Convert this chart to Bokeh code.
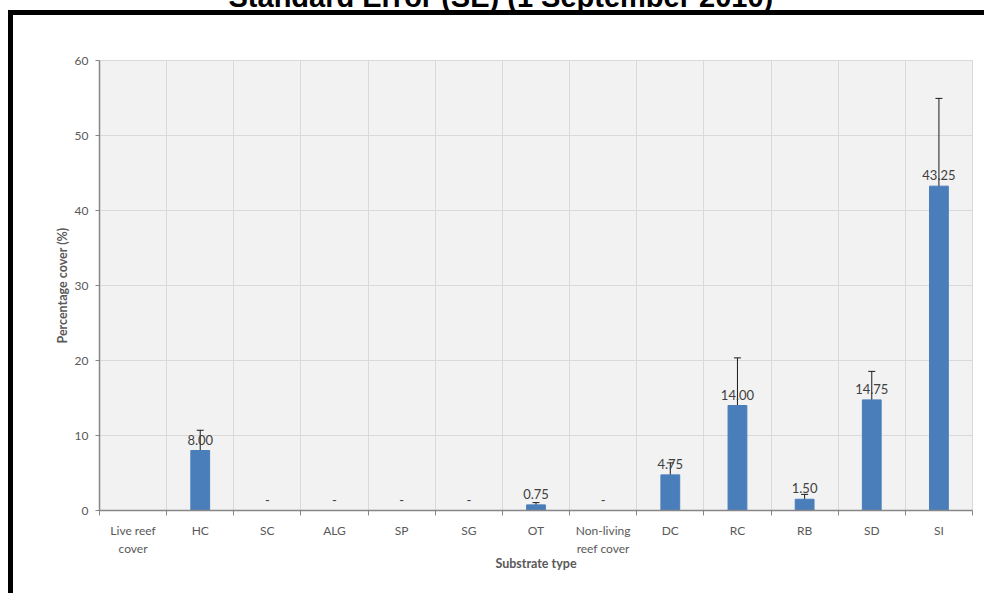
import numpy as np
from bokeh.plotting import figure
from bokeh.core.properties import value
from bokeh.models import (ColumnDataSource, Whisker, TeeHead, FixedTicker, LabelSet)
from bokeh.embed import file_html
from bokeh.resources import INLINE

title = "Standard Error (SE) (1 September 2010)"
categories = ["Live reef\ncover", "HC", "SC", "ALG", "SP", "SG", "OT",
              "Non-living\nreef cover", "DC", "RC", "RB", "SD", "SI"]
means = [np.nan, 8.00, 0, 0, 0, 0, 0.75, 0, 4.75, 14.00, 1.50, 14.75, 43.25]
se = [np.nan, 2.7, 0, 0, 0, 0, 0.3, 0, 1.6, 6.35, 0.65, 3.8, 11.7]
value_labels = ["", "8.00", "-", "-", "-", "-", "0.75", "-", "4.75", "14.00", "1.50", "14.75", "43.25"]
y_ticks = [0, 10, 20, 30, 40, 50, 60]
x_title = "Substrate type"
y_title = "Percentage cover (%)"

n = len(categories)
xc = np.arange(n) + 0.5
m = np.array(means, dtype=float)
s = np.array(se, dtype=float)

src = ColumnDataSource(dict(x=xc, mean=m, ylab=np.nan_to_num(m), label=value_labels))
has_err = np.nan_to_num(s) > 0
err_src = ColumnDataSource(dict(x=xc[has_err], upper=(m + s)[has_err], lower=(m - s)[has_err]))

TXT = "#595959"
FONT = "Lato"
W, H = 984, 593
D = 80  # canvas starts D px above the window so that the title is cut off at the top
BL, BR, BT, BB = 99, 12, 60 + D, 83

p = figure(width=W, height=H + D, x_range=(0, n), y_range=(y_ticks[0], y_ticks[-1]),
           output_backend="svg", toolbar_location=None,
           min_border_left=BL, min_border_right=BR, min_border_top=BT, min_border_bottom=BB)
# outer black frame (left and top edges), drawn behind the transparent canvas border
p.styles = {"margin-top": f"-{D}px",
            "background": f"linear-gradient(#000,#000) 8px {10 + D}px / 5px 100% no-repeat, "
                          f"linear-gradient(#000,#000) 8px {10 + D}px / 100% 5px no-repeat, white"}
p.border_fill_color = None
p.background_fill_color = "#f2f2f2"
p.outline_line_color = "#d9d9d9"

p.title.text = title
p.title.text_font = "Liberation Sans"
p.title.text_font_style = "bold"
p.title.text_font_size = "29px"
p.title.text_color = "black"
p.title.align = "left"
p.title.offset = 228 - BL
p.title.vertical_align = "bottom"
p.title.standoff = 96

p.vbar(x="x", top="mean", width=0.28, source=src, fill_color="#4a7ebb", line_color="#4a7ebb")

head = dict(size=7, line_color="#1a1a1a", line_width=1)
p.add_layout(Whisker(base="x", upper="upper", lower="lower", source=err_src,
                     line_color="#1a1a1a", line_width=1,
                     upper_head=TeeHead(**head), lower_head=TeeHead(**head)))

p.add_layout(LabelSet(x="x", y="ylab", text="label", source=src, y_offset=6,
                      text_align="center", text_baseline="alphabetic",
                      text_font=value(FONT), text_font_size="13px", text_color="#404040"))

# axes
p.xaxis.ticker = FixedTicker(ticks=list(xc), minor_ticks=list(range(n + 1)))
p.xaxis.major_label_overrides = {float(v): c for v, c in zip(xc, categories)}
p.xaxis.major_tick_out = 0
p.xaxis.major_tick_in = 0
p.xaxis.minor_tick_out = 5
p.xaxis.minor_tick_in = 0
p.xaxis.major_label_standoff = 7
p.yaxis.ticker = FixedTicker(ticks=y_ticks)
p.yaxis.major_tick_out = 4
p.yaxis.major_tick_in = 0
p.yaxis.minor_tick_out = 0
p.yaxis.major_label_standoff = 7
for ax in (p.xaxis, p.yaxis):
    ax.axis_line_color = "#868686"
    ax.axis_line_width = 1.5
    ax.major_tick_line_color = "#868686"
    ax.minor_tick_line_color = "#868686"
    ax.major_label_text_font = FONT
    ax.major_label_text_font_size = "12px"
    ax.major_label_text_color = TXT
    ax.axis_label_text_font = FONT
    ax.axis_label_text_font_size = "12.5px"
    ax.axis_label_text_font_style = "bold"
    ax.axis_label_text_color = TXT
p.xaxis.axis_label = x_title
p.yaxis.axis_label = y_title
p.xaxis.axis_label_standoff = -3
p.yaxis.axis_label_standoff = 2

p.xgrid.ticker = FixedTicker(ticks=list(range(n + 1)))
p.xgrid.grid_line_color = "#d9d9d9"
p.ygrid.grid_line_color = "#d9d9d9"

open("out.html", "w").write(file_html(p, INLINE))
